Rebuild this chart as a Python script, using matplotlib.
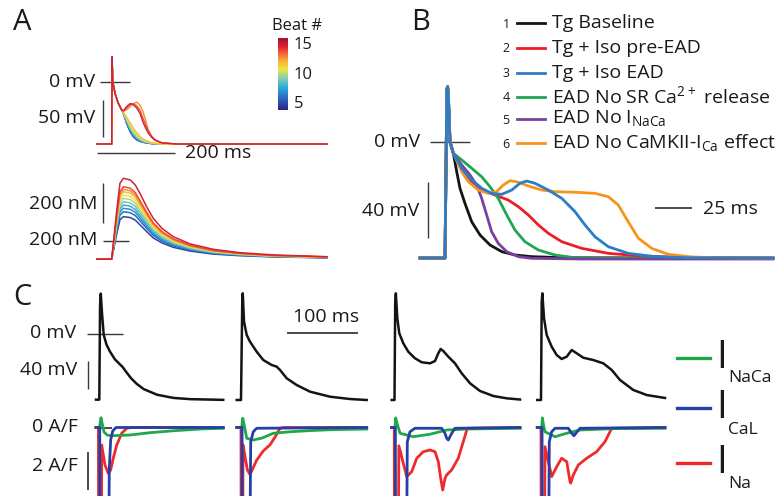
import matplotlib
matplotlib.use("Agg")
import matplotlib.pyplot as plt
from matplotlib.colors import LinearSegmentedColormap, Normalize
from matplotlib.cm import ScalarMappable

# ---------------------------------------------------------------- data
# Panel A: action potentials (ms, mV) for beats 5..15
beat_numbers = [5, 6, 7, 8, 9, 10, 11, 12, 13, 14, 15]
ap_time_a = [-38, 0, 1, 2.6, 8.4, 16.8, 25.5, 30, 38, 47, 55, 64, 72, 80, 85, 93, 102, 110, 128, 166, 549]
ap_beat05 = [-85, -85, 34, 0, -15.8, -29.5, -38.6, -44, -57, -68.5, -75, -79.5, -81.5, -82.8, -83.2, -84, -84.5, -84.8, -85, -85, -85]
ap_beat06 = [-85, -85, 34, 0, -15.8, -29.5, -38.6, -43.8, -56, -67.5, -74, -78.8, -81, -82.5, -83, -83.8, -84.4, -84.8, -85, -85, -85]
ap_beat07 = [-85, -85, 34, 0, -15.8, -29.5, -38.6, -43.5, -55, -66.5, -73, -78, -80.5, -82.2, -82.8, -83.6, -84.3, -84.7, -85, -85, -85]
ap_beat08 = [-85, -85, 34, 0, -15.8, -29.5, -38.6, -43.2, -54, -65, -72, -77, -80, -81.8, -82.5, -83.4, -84.2, -84.6, -85, -85, -85]
ap_beat09 = [-85, -85, 34, 0, -15.8, -29.5, -38.6, -43, -53, -63.5, -70.5, -76, -79, -81.2, -82, -83, -84, -84.5, -85, -85, -85]
ap_beat10 = [-85, -85, 34, 0, -15.8, -29.5, -38.6, -42.5, -51.5, -61.5, -68.5, -74.5, -78, -80.5, -81.5, -82.7, -83.7, -84.3, -84.9, -85, -85]
ap_beat11 = [-85, -85, 34, 0, -15.8, -29.5, -38.6, -42, -50, -59, -66, -72.5, -76.5, -79.5, -80.8, -82.3, -83.4, -84.1, -84.8, -85, -85]
ap_beat12 = [-85, -85, 34, 0, -15.8, -29.5, -38.6, -41.5, -48.5, -56, -63, -70, -74.5, -78, -79.5, -81.5, -83, -83.8, -84.7, -85, -85]
ap_beat13 = [-85, -85, 34, 0, -15.8, -29.5, -38.6, -40, -38.6, -34, -30, -28, -31.8, -41, -50, -65, -74, -79, -83.2, -85, -85]
ap_beat14 = [-85, -85, 34, 0, -15.8, -29.5, -38.6, -39.8, -36, -31, -30, -33, -39, -50, -57, -67, -75, -79.5, -83.5, -85, -85]
ap_beat15 = [-85, -85, 34, 0, -15.8, -29.5, -38.6, -39.6, -34, -29.8, -31.5, -36, -43, -55.5, -61.5, -70, -76, -79.5, -83.5, -85, -85]

# Panel A: Ca transients (ms, nM)
ca_time_a = [-38, 0, 13, 21, 30, 47, 60, 72, 89, 106, 128, 157, 200, 259, 327, 412, 549]
ca_beat05 = [108, 108, 235, 305, 320, 316, 303, 280, 246, 214, 189, 167, 148, 133, 125, 119, 114]
ca_beat06 = [108, 108, 250, 328, 345, 340, 326, 300, 262, 227, 198, 174, 153, 136, 127, 120, 115]
ca_beat07 = [108, 108, 260, 344, 362, 357, 342, 314, 273, 235, 205, 179, 156, 139, 128, 121, 116]
ca_beat08 = [108, 108, 270, 359, 378, 373, 356, 327, 284, 243, 211, 184, 159, 140, 130, 122, 116]
ca_beat09 = [108, 108, 280, 375, 395, 389, 372, 341, 295, 252, 217, 188, 163, 142, 131, 122, 117]
ca_beat10 = [108, 108, 290, 391, 412, 406, 388, 354, 306, 260, 224, 193, 166, 145, 132, 123, 117]
ca_beat11 = [108, 108, 300, 406, 428, 422, 402, 367, 316, 268, 230, 198, 169, 146, 134, 124, 118]
ca_beat12 = [108, 108, 310, 421, 445, 438, 418, 381, 327, 277, 236, 202, 172, 148, 135, 125, 118]
ca_beat13 = [108, 108, 317, 433, 457, 450, 429, 391, 335, 283, 241, 206, 174, 150, 136, 126, 119]
ca_beat14 = [108, 108, 325, 445, 470, 463, 441, 401, 343, 289, 246, 209, 177, 151, 137, 126, 119]
ca_beat15 = [108, 108, 354, 487, 512, 504, 479, 437, 370, 312, 262, 220, 184, 157, 140, 129, 120]

# Panel B: action potentials (ms, mV)
b_labels = ["Tg Baseline", "Tg + Iso pre-EAD", "Tg + Iso EAD",
            r"EAD No SR Ca$^{\mathregular{2+}}$ release",
            r"EAD No I$_{\mathregular{NaCa}}$",
            r"EAD No CaMKII-I$_{\mathregular{Ca}}$ effect"]
b_colors = ["#141414", "#ee1d24", "#2a7dc6", "#1ea650", "#7a40a0", "#f7941d"]
b_base_t = [-17, 0, 1.3, 1.8, 2.4, 3.4, 5.7]
b_base_v = [-84, -84, 38, 39.7, 30, 0, -8.4]
b1_t = [8.0, 10.2, 13.6, 18.2, 23.9, 30.7, 38.7, 47.7, 59.1, 81.8, 223.6]
b1_v = [-21.7, -33.6, -44.5, -57.8, -67.4, -74.6, -79.4, -81.8, -83.0, -83.8, -84.0]
b2_t = [11.4, 18.2, 25.0, 34.1, 43.1, 50.0, 56.8, 63.6, 70.4, 79.6, 93.2, 111.3, 134.1, 161.3, 184.0, 223.6]
b2_v = [-19.2, -28.9, -34.9, -38.5, -42.1, -46.9, -52.9, -60.1, -66.1, -72.2, -77.0, -80.6, -82.5, -83.5, -83.8, -84.0]
b3_t = [11.4, 17.0, 25.0, 31.8, 38.7, 45.5, 51.1, 55.7, 61.3, 70.4, 79.6, 88.6, 95.4, 102.2, 111.3, 124.9, 143.1, 165.8, 223.6]
b3_v = [-19.2, -26.4, -33.6, -37.3, -38.0, -34.9, -30.0, -28.4, -30.0, -34.9, -40.9, -50.5, -60.1, -68.6, -75.8, -80.6, -83.0, -83.8, -84.0]
b4_t = [11.4, 18.2, 25.0, 30.7, 36.3, 42.1, 47.7, 54.5, 63.6, 75.0, 88.6, 104.3, 223.6]
b4_v = [-13.2, -19.2, -25.3, -32.5, -40.9, -52.9, -63.8, -72.2, -78.2, -81.8, -83.8, -84.2, -84.2]
b5_t = [11.4, 17.0, 21.6, 25.0, 28.4, 31.8, 36.3, 42.1, 50.0, 59.1, 93.2, 223.6]
b5_v = [-16.8, -24.0, -31.3, -40.9, -52.9, -65.0, -73.4, -79.4, -83.0, -84.2, -84.7, -84.7]
b6_t = [11.4, 15.9, 22.7, 29.5, 35.2, 39.7, 44.3, 48.9, 56.8, 65.9, 75.0, 88.6, 102.2, 111.3, 118.1, 124.9, 131.8, 140.9, 152.2, 168.2, 184.0, 223.6]
b6_v = [-21.7, -28.9, -34.9, -37.3, -36.1, -31.3, -28.2, -28.9, -32.0, -34.9, -36.1, -36.5, -37.3, -39.7, -45.7, -57.8, -69.7, -77.0, -81.3, -83.2, -83.8, -84.0]

# Panel C: action potentials (ms, mV) and currents (ms, A/F), four beats
c1_ap_t = [-5, -0.3, 0.8, 1.8, 3.5, 6, 10, 15, 22, 29, 33, 38, 45, 53, 63, 82, 105, 129, 176]
c1_ap_v = [-94.5, -94.5, 40, 57, 30, -2, -16, -26, -37, -44, -48, -55, -64, -72, -79.5, -87.5, -92, -93.8, -94.8]
c2_ap_t = [-7, -1, 0.8, 1.5, 3.3, 7.1, 11.8, 21.3, 30.7, 42.7, 49.8, 54.5, 64, 78.2, 97.2, 125.6, 154.1, 177.8]
c2_ap_v = [-95, -95, 45, 57.4, 16.9, -2.1, -11.7, -26, -37.9, -45, -47.4, -52.1, -64, -73.6, -83.1, -90.3, -93.6, -95]
c3_ap_t = [-4.7, -0.7, 0.3, 1.2, 3.3, 6.1, 11.8, 18.9, 28.4, 38, 49.8, 56.9, 61.6, 65, 68.7, 75.8, 85.3, 94.9, 106.7, 120.9, 139.9, 158.9, 177.8]
c3_ap_v = [-95, -95, 45, 57.4, 21.7, 0.3, -14, -26, -35.4, -41.1, -42.6, -39.3, -28.3, -22.1, -25, -33.1, -42.6, -56.9, -71.1, -82.1, -89.3, -92.6, -94.3]
c4_ap_t = [-6.3, -1, 0, 0.9, 3.3, 7.1, 14.2, 21.3, 28.4, 35.6, 42.7, 49.8, 59.2, 73.4, 87.6, 99.6, 111.4, 130.3, 149.4, 175.4]
c4_ap_v = [-95, -95, 45, 57.4, 21.7, -2.1, -18.9, -30.7, -36.4, -33.1, -23.6, -28.3, -34.6, -37.9, -42.6, -52.1, -66.4, -80.7, -87.9, -92.1]

c1_naca_t = [-5, 0, 2.1, 4.3, 6.4, 10.7, 15, 24.5, 43.4, 71.8, 105, 143, 176]
c1_naca_i = [0, 0, 0.51, 0.13, -0.23, -0.39, -0.42, -0.42, -0.39, -0.27, -0.17, -0.08, -0.04]
c1_cal_t = [-5, 0.3, 1.0, 12.1, 13.9, 15.9, 18.8, 23.5, 176]
c1_cal_i = [0, 0, -12, -12, -2.2, -0.65, -0.18, 0, 0]
c1_na_t = [-5, -1.5, -1.2, 2.5, 3.1, 7.8, 12.5, 15.9, 19.6, 24.5, 31.6, 38.7, 45, 176]
c1_na_i = [0, 0, -14, -14, -0.91, -1.95, -2.39, -2.21, -1.6, -0.91, -0.3, -0.04, 0, 0]

c2_naca_t = [-7, 0, 1.5, 4, 7.1, 16.5, 28.9, 45, 70, 92.5, 130, 177.8]
c2_naca_i = [0, 0, 0.48, 0.05, -0.56, -0.65, -0.55, -0.3, -0.22, -0.17, -0.11, -0.08]
c2_cal_t = [-7, 0.5, 1.2, 10.5, 12.8, 16.5, 21.3, 177.8]
c2_cal_i = [0, 0, -12, -12, -0.74, -0.22, -0.04, 0]
c2_na_t = [-7, -1, -0.5, 1.2, 1.8, 4.7, 8, 11.8, 15, 21.3, 30.7, 40.3, 47.4, 54.5, 60, 177.8]
c2_na_i = [0, 0, -14, -14, -0.9, -1.5, -2.2, -2.45, -2.2, -1.7, -1.22, -0.9, -0.5, -0.04, 0, 0]

c3_naca_t = [-4.7, 0, 1, 3.5, 7.1, 26, 49.8, 64, 73.5, 102, 177.8]
c3_naca_i = [0, 0, 0.5, 0.15, -0.3, -0.48, -0.35, -0.22, -0.13, -0.08, -0.04]
c3_cal_t = [-4.7, 0.5, 1.2, 15.5, 17.5, 21.3, 28.4, 66.4, 71.1, 73.5, 75.8, 80.7, 85.3, 177.8]
c3_cal_i = [0, 0, -12, -12, -0.74, -0.22, -0.04, -0.04, -0.3, -0.56, -0.65, -0.3, -0.04, 0]
c3_na_t = [-4.7, -1, -0.5, 3.5, 5.5, 16.6, 23.8, 30.9, 40.3, 49.8, 56.9, 61.6, 65, 67.9, 71.1, 73.5, 80.6, 90, 97.1, 102.8, 177.8]
c3_na_i = [0, 0, -14, -14, -0.95, -2.56, -2.3, -1.6, -1.26, -1.17, -1.26, -1.78, -2.65, -3.26, -2.65, -2.47, -2.21, -1.6, -0.74, -0.04, 0]

c4_naca_t = [-6.3, 0, 1, 2.5, 4.7, 18.9, 35.6, 54.5, 101.9, 175.4]
c4_naca_i = [0, 0, 0.5, 0.15, -0.22, -0.48, -0.3, -0.13, -0.06, -0.04]
c4_cal_t = [-6.3, 0.5, 1.2, 9.0, 10.8, 14.2, 18.9, 37.8, 42.7, 45.9, 49.8, 54.5, 175.4]
c4_cal_i = [0, 0, -12, -12, -0.74, -0.22, -0.04, -0.04, -0.3, -0.43, -0.25, -0.04, 0]
c4_na_t = [-6.3, -1, -0.5, 3, 4.7, 14.2, 21.3, 28.4, 35.6, 40.3, 41.3, 45, 52.1, 64, 78.2, 90, 99.6, 175.4]
c4_na_i = [0, 0, -14, -14, -1.0, -2.56, -2.04, -1.6, -1.78, -2.82, -2.9, -2.47, -1.95, -1.6, -1.26, -0.74, -0.04, 0]

current_names = ["NaCa", "CaL", "Na"]
current_colors = ["#1fa84a", "#2440a8", "#ee2a2a"]

# ---------------------------------------------------------------- layout
W, H = 777, 496
plt.rcParams["font.family"] = ["Open Sans", "DejaVu Sans"]
plt.rcParams["mathtext.fontset"] = "custom"
plt.rcParams["mathtext.rm"] = "Open Sans"
TXT = "#1a1a1a"
BAR = "#3a3a3a"

fig = plt.figure(figsize=(W / 100, H / 100), dpi=100)
fig.patch.set_facecolor("white")


def px_axes(box, x0, xs, y0, ys):
    """Axes over a pixel box; data 0 sits at pixel (x0, y0), xs/ys px per unit."""
    l, t, r, b = box
    ax = fig.add_axes([l / W, 1 - b / H, (r - l) / W, (b - t) / H])
    ax.set_xlim((l - x0) / xs, (r - x0) / xs)
    ax.set_ylim((y0 - b) / ys, (y0 - t) / ys)
    ax.axis("off")
    return ax


def label(x, y, s, size, ha="left", **kw):
    fig.text(x / W, 1 - y / H, s, fontsize=size, ha=ha, va="center",
             color=kw.pop("color", TXT), **kw)


def bar(ax, xs, ys, lw=1.0):
    ax.plot(xs, ys, color=BAR, lw=lw, solid_capstyle="butt", zorder=1)


# beat colour scale
beat_cmap = LinearSegmentedColormap.from_list("beats", [
    (0.00, "#27287c"), (0.10, "#2f4fb0"), (0.30, "#2aa8e0"), (0.45, "#8fd3a8"),
    (0.56, "#ece444"), (0.68, "#f8b036"), (0.78, "#f26434"), (0.87, "#e02434"),
    (1.00, "#98103a")])
beat_norm = Normalize(vmin=4.1, vmax=16.3)

# ---- panel A, action potentials
axA1 = px_axes((88, 40, 340, 162), 111.7, 0.392, 81.7, 0.733)
ap_beats = [ap_beat05, ap_beat06, ap_beat07, ap_beat08, ap_beat09, ap_beat10,
            ap_beat11, ap_beat12, ap_beat13, ap_beat14, ap_beat15]
for n, v in zip(beat_numbers, ap_beats):
    axA1.plot(ap_time_a, v, color=beat_cmap(beat_norm(n)), lw=1.0,
              solid_joinstyle="round", zorder=2 + n)
bar(axA1, [-29.8, 46.7], [0, 0])
bar(axA1, [-21.4, -21.4], [-25, -75])
bar(axA1, [-38.3, 161.5], [-96.9, -96.9])

# ---- panel A, Ca transients
axA2 = px_axes((88, 165, 340, 275), 111.7, 0.392, 280.7, 0.2)
ca_beats = [ca_beat05, ca_beat06, ca_beat07, ca_beat08, ca_beat09, ca_beat10,
            ca_beat11, ca_beat12, ca_beat13, ca_beat14, ca_beat15]
for n, c in zip(beat_numbers, ca_beats):
    axA2.plot(ca_time_a, c, color=beat_cmap(beat_norm(n)), lw=1.1,
              solid_joinstyle="round", zorder=2 + n)
bar(axA2, [-21.4, 44.9], [200, 200])
bar(axA2, [-21.4, -21.4], [287, 487])

# colour bar
cax = fig.add_axes([277.5 / W, 1 - 109.5 / H, 10 / W, 72 / H])
cb = fig.colorbar(ScalarMappable(norm=beat_norm, cmap=beat_cmap), cax=cax)
cb.outline.set_visible(False)
cb.set_ticks([])

label(13, 22, "A", 21)
label(95, 81.7, "0 mV", 14, ha="right")
label(95, 118, "50 mV", 14, ha="right")
label(185, 153, "200 ms", 14)
label(97, 204, "200 nM", 14, ha="right")
label(97, 240, "200 nM", 14, ha="right")
label(297, 26, "Beat #", 12, ha="center")
for n, y in zip([15, 10, 5], [45, 75, 104]):
    label(294, y, str(n), 12)

# ---- panel B
axB = px_axes((400, 70, 777, 270), 445, 1.467, 141.7, 1.385)
b_traces = [(b1_t, b1_v), (b2_t, b2_v), (b3_t, b3_v),
            (b4_t, b4_v), (b5_t, b5_v), (b6_t, b6_v)]
b_order = [0, 1, 3, 4, 5, 2]
for k in b_order:
    t, v = b_traces[k]
    axB.plot(b_base_t + t, b_base_v + v, color=b_colors[k], lw=2.0,
             solid_joinstyle="round", zorder=3 + b_order.index(k))
bar(axB, [-10.2, 17.0], [0, 0])
bar(axB, [-11.8, -11.8], [-29.3, -69.3])
bar(axB, [143.1, 168.2], [-48.1, -48.1], lw=1.3)

label(411, 22.5, "B", 21)
label(420, 142, "0 mV", 14, ha="right")
label(419, 211, "40 mV", 14, ha="right")
label(703, 209, "25 ms", 14)
legend_rows = [23, 48, 72.5, 96.5, 119, 143]
for k, y in enumerate(legend_rows):
    label(506, y + 1, str(k + 1), 9, ha="center")
    fig.add_artist(plt.Line2D([517 / W, 545 / W], [1 - y / H, 1 - y / H],
                              color=b_colors[k], lw=2.0))
    label(552, y, b_labels[k], 14)

# ---- panel C
c_cols = [99.5, 241.7, 395, 541.7]
c_ap = [(c1_ap_t, c1_ap_v), (c2_ap_t, c2_ap_v), (c3_ap_t, c3_ap_v), (c4_ap_t, c4_ap_v)]
c_cur = [
    [(c1_naca_t, c1_naca_i), (c1_cal_t, c1_cal_i), (c1_na_t, c1_na_i)],
    [(c2_naca_t, c2_naca_i), (c2_cal_t, c2_cal_i), (c2_na_t, c2_na_i)],
    [(c3_naca_t, c3_naca_i), (c3_cal_t, c3_cal_i), (c3_na_t, c3_na_i)],
    [(c4_naca_t, c4_naca_i), (c4_cal_t, c4_cal_i), (c4_na_t, c4_na_i)],
]
for j, x0 in enumerate(c_cols):
    axv = px_axes((x0 - 20, 285, x0 + 136, 405), x0, 0.703, 333.5, 0.7)
    axv.plot(*c_ap[j], color="#141414", lw=1.8, solid_joinstyle="round", zorder=3)
    axi = px_axes((x0 - 20, 405, x0 + 136, 496), x0, 0.703, 427.5, 19.2)
    for k in (2, 0, 1):
        t, i = c_cur[j][k]
        axi.plot(t, i, color=current_colors[k], lw=2.0,
                 solid_joinstyle="round", zorder=3 + (k == 1))
    if j == 0:
        bar(axv, [-18.2, 33.9], [0, 0])
        bar(axv, [-15.9, -15.9], [-38.6, -78.6])
        bar(axi, [-6.4, 17.4], [0, 0], lw=1.3)
        bar(axi, [-15.9, -15.9], [-1.26, -3.26], lw=1.3)
    if j == 1:
        bar(axv, [64.9, 164.9], [0.3, 0.3], lw=1.3)

label(13, 297.5, "C", 21)
label(76, 333.5, "0 mV", 14, ha="right")
label(77, 370, "40 mV", 14, ha="right")
label(78, 427, "0 A/F", 14, ha="right")
label(78, 466, "2 A/F", 14, ha="right")
label(326, 317, "100 ms", 14, ha="center")

for k, (yl, ys) in enumerate(zip([358.3, 408.3, 463.3], [378, 430.5, 483.5])):
    fig.add_artist(plt.Line2D([677 / W, 710 / W], [1 - yl / H, 1 - yl / H],
                              color=current_colors[k], lw=2.4))
    label(716, yl - 0.5, "I", 28)
    label(728, ys, current_names[k], 12.5)

fig.savefig("out.png", dpi=100, facecolor="white")
